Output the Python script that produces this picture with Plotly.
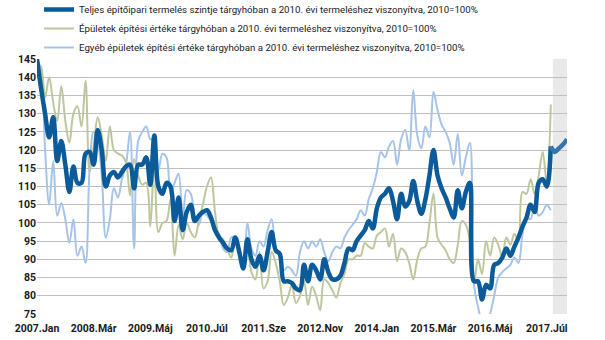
import plotly.graph_objects as go

years = list(range(2007, 2018))
month_names = ["Jan", "Feb", "Már", "Ápr", "Máj", "Jún", "Júl", "Aug", "Sze", "Okt", "Nov", "Dec"]
categories = [f"{y}.{m}" for y in years for m in month_names]  # 132 months

teljes = [145, 137, 130, 123.5, 129, 117, 122.5, 116, 108.5, 115.5, 111, 111, 119, 119.5, 116, 125.5,
          120, 110, 113, 114, 112.5, 114, 115.5, 116, 109.5, 116,
          116, 118, 110.5, 124, 110, 108, 111, 110, 100.5, 107, 98, 103, 105, 100.5, 102, 103, 103.5,
          101.5, 98, 96, 94.5, 93, 92.5, 96, 92, 87.5,
          95.5, 90, 88, 91, 87, 92, 97.5, 92.5, 91.5, 84, 84, 83.5, 82, 81.5, 88.5, 84, 88.5, 87, 84.5,
          90, 86.5, 84.5, 84.5, 85.5, 89, 93,
          92.5, 95, 96.5, 98, 100.5, 98.5, 104, 107, 108, 109.5, 106, 101, 108, 104.5, 106, 111.5, 106,
          102.5, 106.5, 113, 120, 113, 109.5, 107, 104, 101.5,
          109, 104, 108.5, 111, 84, 84, 79, 83, 82, 88.5, 89, 90.5, 93, 91, 93.5, 96, 99, 101.5, 105,
          103, 111, 112, 110, 121]
teljes_forecast = [121, 119.5, 120.5, 121.5, 123]

epuletek = [140, 143, 134.5, 140, 133, 128, 137.5, 128, 122, 130, 132, 126.5, 139, 114, 121, 129,
            124, 117, 126.5, 120, 119, 118.5, 116.5, 107.5, 117.5, 113,
            110.5, 111, 99, 118, 97.5, 100, 100.5, 106.5, 91, 99.5, 95.5, 100, 97.5, 96, 100.5, 105,
            110, 112.5, 103, 96.5, 95.5, 93, 90.5, 95, 92, 88,
            94, 86.5, 84.5, 92, 82, 84, 92, 89, 84, 77.5, 79.5, 83, 78, 80, 84, 77.5, 82.5, 80, 76,
            84.5, 83.5, 81.5, 79.5, 83.5, 86, 90,
            90, 91, 91, 94.5, 93.5, 93, 96.5, 97.5, 98.5, 93.5, 97, 89.5, 93, 92, 89, 84.5, 90, 93,
            93.5, 100, 108, 96, 94, 92.5, 90, 89,
            94, 100.5, 99.5, 95, 83.5, 90, 86, 95, 91, 96, 94, 90.5, 96, 94, 97, 95, 108.5, 108, 112,
            108, 113, 119.5, 111, 132.5]

egyeb = [145, 142, 120, 105, 117, 102, 105.5, 101, 94.5, 101, 91, 93.5, 89, 115, 125, 122.5,
         113, 96, 101, 109.5, 107, 112, 116, 125, 93, 122.5,
         125, 126.5, 123, 123, 114.5, 119, 118, 108, 111, 113.5, 100.5, 109, 108, 102, 99.5, 103,
         102, 100.5, 98.5, 97, 93, 92, 96, 96, 93, 88,
         100, 93, 91, 95, 93.5, 98, 101, 93, 91, 87, 88, 87, 85.5, 92, 95, 93, 95, 93.5, 95.5, 92,
         89.5, 92, 93.5, 93, 96, 98,
         99.5, 101, 103.5, 102, 106.5, 109.5, 114, 119.5, 118, 121, 122.5, 116, 123, 125.5, 120,
         136.5, 124, 120.5, 126.5, 123.5, 136, 131, 127, 125, 122, 116,
         124.5, 113, 118, 122, 83, 77, 73, 72, 75, 80, 85, 86.5, 87.5, 88.5, 90.5, 89, 97, 101.5,
         101, 105, 102, 103, 105, 103.5]

series_names = [
    "Teljes építőipari termelés szintje tárgyhóban a 2010. évi termeléshez viszonyítva, 2010=100%",
    "Épületek építési értéke tárgyhóban a 2010. évi termeléshez viszonyítva, 2010=100%",
    "Egyéb épületek építési értéke tárgyhóban a 2010. évi termeléshez viszonyítva, 2010=100%",
]
y_ticks = list(range(75, 146, 5))
x_tick_labels = categories[::14]

n_hist = len(teljes)
fig = go.Figure()

fig.add_shape(type="rect", xref="x", yref="paper", x0=127.5, x1=len(categories) - 1,
              y0=0, y1=1, fillcolor="#e9e9e9", line_width=0, layer="below")

spl = dict(shape="spline", smoothing=1.0)
fig.add_trace(go.Scatter(x=categories[:len(egyeb)], y=egyeb, name=series_names[2],
                         mode="lines", line=dict(color="#a6c4e8", width=2, **spl)))
fig.add_trace(go.Scatter(x=categories[:len(epuletek)], y=epuletek, name=series_names[1],
                         mode="lines", line=dict(color="#bcc79d", width=2, **spl)))
fig.add_trace(go.Scatter(x=categories[:n_hist], y=teljes, name=series_names[0],
                         mode="lines", line=dict(color="#0b5b9a", width=4.5, **spl)))
fig.add_trace(go.Scatter(x=categories[n_hist - 1:n_hist - 1 + len(teljes_forecast)], y=teljes_forecast,
                         showlegend=False, mode="lines",
                         line=dict(color="#3674ad", width=4.5, **spl)))

fig.update_layout(
    width=605, height=340,
    margin=dict(l=37, r=38, t=59, b=26, autoexpand=False),
    paper_bgcolor="white", plot_bgcolor="white",
    font=dict(family="Roboto, sans-serif", color="#1a1a1a", size=10),
    showlegend=True,
    legend=dict(x=39 / 605, xref="container", y=1.0 + 64 / 255, yref="paper",
                xanchor="left", yanchor="top", traceorder="reversed",
                font=dict(size=9.7, color="#1a1a1a"), bgcolor="rgba(0,0,0,0)", itemwidth=30,
                tracegroupgap=0),
    xaxis=dict(type="category", categoryorder="array", categoryarray=categories,
               range=[0, len(categories) - 1], tickmode="array", tickvals=x_tick_labels,
               ticktext=x_tick_labels, showgrid=False, zeroline=False, showline=False, ticks="",
               ticklabelstandoff=6,
               automargin=False, tickfont=dict(size=10.5, color="#1a1a1a", weight="bold")),
    yaxis=dict(range=[75, 145], tickmode="array", tickvals=y_ticks, showgrid=True,
               gridcolor="#bfbfbf", gridwidth=1, zeroline=False, showline=False, ticks="",
               automargin=False, tickfont=dict(size=10.5, color="#1a1a1a", weight="bold")),
)

fig.write_html("out.html")
